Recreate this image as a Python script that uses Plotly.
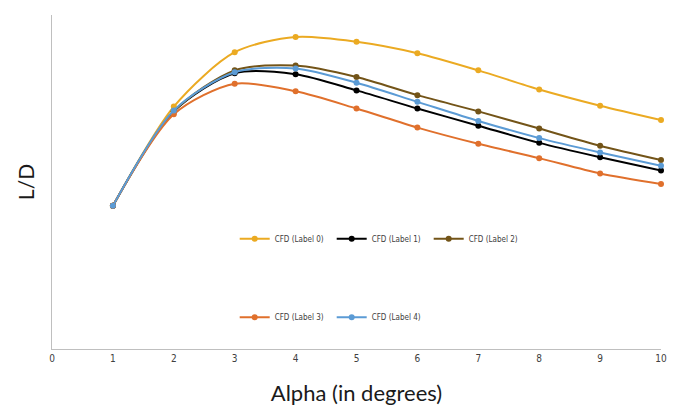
import plotly.graph_objects as go

alpha = [1, 2, 3, 4, 5, 6, 7, 8, 9, 10]
label0 = [15.0, 25.4, 31.1, 32.7, 32.2, 31.0, 29.2, 27.2, 25.5, 24.0]
label1 = [15.0, 24.9, 28.9, 28.8, 27.1, 25.2, 23.4, 21.6, 20.1, 18.7]
label2 = [15.0, 24.9, 29.2, 29.7, 28.5, 26.6, 24.9, 23.1, 21.3, 19.8]
label3 = [15.0, 24.6, 27.8, 27.0, 25.2, 23.2, 21.5, 20.0, 18.4, 17.3]
label4 = [15.0, 25.0, 29.0, 29.4, 27.9, 25.9, 23.9, 22.1, 20.6, 19.2]
names = ["CFD (Label 0)", "CFD (Label 1)", "CFD (Label 2)", "CFD (Label 3)", "CFD (Label 4)"]
colors = ["#EBAA22", "#000000", "#735418", "#E0702C", "#5B9BD5"]
series = [label0, label1, label2, label3, label4]
legend_ids = ["legend", "legend", "legend", "legend2", "legend2"]

fig = go.Figure()
for nm, col, ys, lg in zip(names, colors, series, legend_ids):
    fig.add_trace(go.Scatter(
        x=alpha, y=ys, name=nm, mode="lines+markers",
        line=dict(color=col, width=2, shape="spline", smoothing=0.8),
        marker=dict(color=col, size=6),
        cliponaxis=False, legend=lg,
    ))

narrow = "DejaVu Sans Condensed, Liberation Sans Narrow, sans-serif"
legend_font = dict(family=narrow, size=8, color="#404040")
fig.update_layout(
    width=672, height=400,
    margin=dict(l=44, r=19, t=7, b=56),
    paper_bgcolor="white", plot_bgcolor="white",
    showlegend=True,
    legend=dict(orientation="h", x=0.30, xanchor="left", y=0.33, yanchor="middle",
                font=legend_font, bgcolor="rgba(0,0,0,0)", entrywidth=52, itemwidth=30),
    legend2=dict(orientation="h", x=0.30, xanchor="left", y=0.095, yanchor="middle",
                 font=legend_font, bgcolor="rgba(0,0,0,0)", entrywidth=52, itemwidth=30),
    xaxis=dict(range=[0, 10], tickmode="array", tickvals=list(range(0, 11)),
               showgrid=False, zeroline=False, showline=True, linecolor="#BFBFBF", linewidth=1,
               ticks="", tickfont=dict(family=narrow, size=10, color="#404040"),
               title=dict(text="Alpha (in degrees)", standoff=22,
                          font=dict(family="Lato, sans-serif", size=22, color="#1a1a1a"))),
    yaxis=dict(range=[0, 35], showticklabels=False, showgrid=False, zeroline=False,
               showline=True, linecolor="#BFBFBF", linewidth=1, ticks="",
               title=dict(text="L/D", standoff=10,
                          font=dict(family="Lato, sans-serif", size=21, color="#1a1a1a"))),
)
fig.write_html("out.html")
